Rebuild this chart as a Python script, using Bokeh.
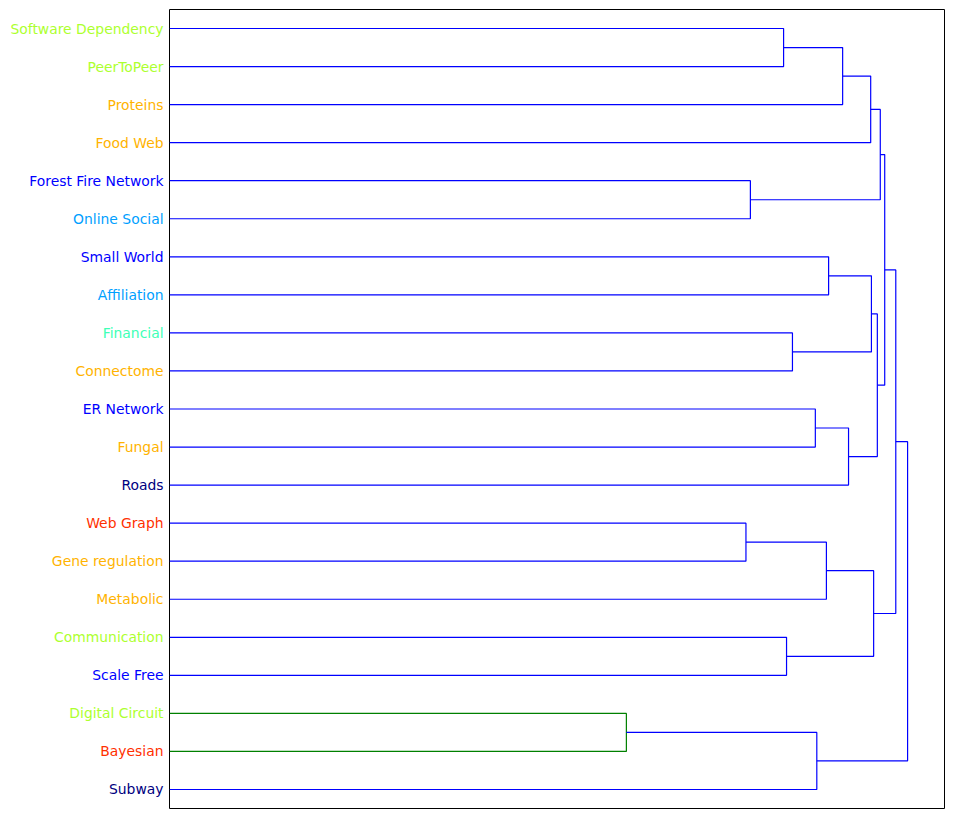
from bokeh.plotting import figure
from bokeh.models import ColumnDataSource, Range1d
from bokeh.layouts import row
from bokeh.core.properties import value
from bokeh.embed import file_html
from bokeh.resources import INLINE

# Leaves, top to bottom
leaves = ["Software Dependency", "PeerToPeer", "Proteins", "Food Web",
          "Forest Fire Network", "Online Social", "Small World", "Affiliation",
          "Financial", "Connectome", "ER Network", "Fungal", "Roads",
          "Web Graph", "Gene regulation", "Metabolic", "Communication",
          "Scale Free", "Digital Circuit", "Bayesian", "Subway"]
label_colors = ["#adff2f", "#adff2f", "#ffb300", "#ffb300",
                "#0000ff", "#00a0ff", "#0000ff", "#00a0ff",
                "#40ffb6", "#ffb300", "#0000ff", "#ffb300", "#000080",
                "#ff3000", "#ffb300", "#ffb300", "#adff2f",
                "#0000ff", "#adff2f", "#ff3000", "#000080"]

# Linkage: node ids 0..20 are leaves, merges get ids 21.. in order
merge_left = [0, 21, 22, 4, 23, 6, 8, 26, 10, 29, 28, 25, 13, 33, 16, 34, 32, 18, 38, 37]
merge_right = [1, 2, 3, 5, 24, 7, 9, 27, 11, 12, 30, 31, 14, 15, 17, 35, 36, 19, 20, 39]
merge_height = [0.832, 0.912, 0.950, 0.787, 0.963, 0.893, 0.844, 0.951, 0.875, 0.920,
                0.959, 0.969, 0.781, 0.890, 0.836, 0.954, 0.984, 0.619, 0.877, 1.000]
link_colors = ["#0000ff"] * 17 + ["#008000"] + ["#0000ff"] * 2

n = len(leaves)
pos = [5 + 10 * i for i in range(n)]
hgt = [0.0] * n
xs, ys = [], []
for l, r, h in zip(merge_left, merge_right, merge_height):
    yl, yr = pos[l], pos[r]
    xs.append([hgt[l], h, h, hgt[r]])
    ys.append([yl, yl, yr, yr])
    pos.append((yl + yr) / 2)
    hgt.append(h)

yr_shared = Range1d(10 * n, 0)

# label panel
lp = figure(width=169, height=819, output_backend="svg", toolbar_location=None,
            x_range=Range1d(0, 169), y_range=yr_shared,
            min_border_left=0, min_border_right=0, min_border_top=9, min_border_bottom=11)
lp.axis.visible = False
lp.grid.visible = False
lp.outline_line_color = None
src = ColumnDataSource(dict(x=[163] * n, y=pos[:n], text=leaves, color=label_colors))
lp.text(x="x", y="y", text="text", source=src, text_align="right",
        text_baseline="middle", text_color="color",
        text_font=value("DejaVu Sans"), text_font_size=value("13.9px"))

# dendrogram panel
p = figure(width=785, height=819, output_backend="svg", toolbar_location=None,
           x_range=Range1d(0, 1.05), y_range=yr_shared,
           min_border_left=0, min_border_right=10, min_border_top=9, min_border_bottom=11)
p.axis.visible = False
p.grid.visible = False
p.outline_line_color = "black"
p.outline_line_width = 1
p.multi_line(xs=xs, ys=ys, line_color=link_colors, line_width=1.2)

layout = row(lp, p, spacing=0)
open("out.html", "w").write(file_html(layout, INLINE))
